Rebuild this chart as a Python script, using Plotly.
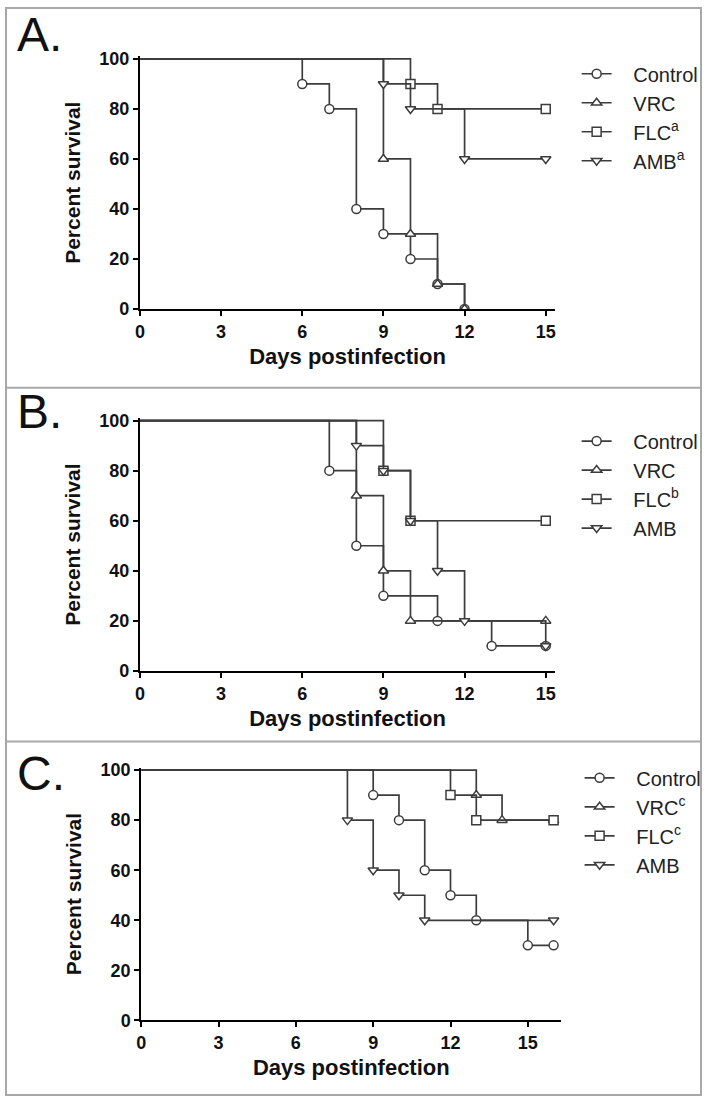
import plotly.graph_objects as go

W, H = 707, 1107

# ---------------- Data (Kaplan-Meier step points) ----------------
series_names = ["Control", "VRC", "FLC", "AMB"]

# Panel A
a_control_t = [0, 6, 7, 8, 9, 10, 11, 12]
a_control_s = [100, 90, 80, 40, 30, 20, 10, 0]
a_vrc_t = [0, 9, 10, 11, 12]
a_vrc_s = [100, 60, 30, 10, 0]
a_flc_t = [0, 10, 11, 15]
a_flc_s = [100, 90, 80, 80]
a_amb_t = [0, 9, 10, 12, 15]
a_amb_s = [100, 90, 80, 60, 60]
a_labels = ["Control", "VRC", "FLC<sup>a</sup>", "AMB<sup>a</sup>"]

# Panel B
b_control_t = [0, 7, 8, 9, 11, 13, 15]
b_control_s = [100, 80, 50, 30, 20, 10, 10]
b_vrc_t = [0, 8, 9, 10, 15]
b_vrc_s = [100, 70, 40, 20, 20]
b_flc_t = [0, 9, 10, 15]
b_flc_s = [100, 80, 60, 60]
b_amb_t = [0, 8, 9, 10, 11, 12, 15]
b_amb_s = [100, 90, 80, 60, 40, 20, 10]
b_labels = ["Control", "VRC", "FLC<sup>b</sup>", "AMB"]

# Panel C
c_control_t = [0, 9, 10, 11, 12, 13, 15, 16]
c_control_s = [100, 90, 80, 60, 50, 40, 30, 30]
c_vrc_t = [0, 13, 14, 16]
c_vrc_s = [100, 90, 80, 80]
c_flc_t = [0, 12, 13, 16]
c_flc_s = [100, 90, 80, 80]
c_amb_t = [0, 8, 9, 10, 11, 16]
c_amb_s = [100, 80, 60, 50, 40, 40]
c_labels = ["Control", "VRC<sup>c</sup>", "FLC<sup>c</sup>", "AMB"]

x_ticks_ab = [0, 3, 6, 9, 12, 15]
x_ticks_c = [0, 3, 6, 9, 12, 15]
y_ticks = [0, 20, 40, 60, 80, 100]
panel_letters = ["A.", "B.", "C."]

# ---------------- Styling ----------------
symbols = ["circle", "triangle-up", "square", "triangle-down"]
LINE_C = "#3c3c3c"
FONT = "Liberation Sans, Arial, sans-serif"
PAD = "\u00a0\u00a0\u00a0"  # gap between legend glyph and its label

fig = go.Figure()

panels = [
    ([(a_control_t, a_control_s), (a_vrc_t, a_vrc_s), (a_flc_t, a_flc_s), (a_amb_t, a_amb_s)], a_labels, "", "", "legend"),
    ([(b_control_t, b_control_s), (b_vrc_t, b_vrc_s), (b_flc_t, b_flc_s), (b_amb_t, b_amb_s)], b_labels, "2", "2", "legend2"),
    ([(c_control_t, c_control_s), (c_vrc_t, c_vrc_s), (c_flc_t, c_flc_s), (c_amb_t, c_amb_s)], c_labels, "3", "3", "legend3"),
]

for data, labels, xs, ys, leg in panels:
    for i, ((t, s), lab) in enumerate(zip(data, labels)):
        fig.add_trace(go.Scatter(
            x=t, y=s, mode="lines", line=dict(shape="hv", color=LINE_C, width=1.7),
            xaxis="x" + xs, yaxis="y" + ys, showlegend=False, hoverinfo="skip"))
        fig.add_trace(go.Scatter(
            x=t[1:], y=s[1:], mode="markers",
            marker=dict(symbol=symbols[i], size=9, color="white",
                        line=dict(color=LINE_C, width=1.5)),
            xaxis="x" + xs, yaxis="y" + ys, showlegend=False))
        fig.add_trace(go.Scatter(
            x=[None], y=[None], mode="lines+markers", name=PAD + lab,
            line=dict(color=LINE_C, width=1.7),
            marker=dict(symbol=symbols[i], size=9, color="white",
                        line=dict(color=LINE_C, width=1.5)),
            xaxis="x" + xs, yaxis="y" + ys, legend=leg, legendgroup=leg + str(i)))

def px_x(p):
    return p / W

def px_y(p):
    return 1 - p / H

axis_common = dict(
    showline=True, linecolor="black", linewidth=2, ticks="outside", ticklen=5,
    tickwidth=2, tickcolor="black", showgrid=False, zeroline=False,
    tickfont=dict(family=FONT, size=18, color="#111", weight="bold"),
)
xt = dict(text="Days postinfection", font=dict(family=FONT, size=22, color="#111", weight="bold"), standoff=8)
yt = dict(text="Percent survival", font=dict(family=FONT, size=21, color="#111", weight="bold"), standoff=13)

geo = [
    # x0px, x1px, xmax, ybottom_px, ytop_px
    (136.7, 557.3, 15.35, 306.7, 50.2, "y", "x"),
    (136.7, 557.3, 15.35, 674.3, 417.5, "y2", "x2"),
    (138.0, 563.5, 16.3, 1029.3, 772.4, "y3", "x3"),
]
lay = {}
for k, (x0, x1, xmax, yb, yt_, yname, xname) in enumerate(geo):
    xkey = "xaxis" if xname == "x" else "xaxis" + xname[1:]
    ykey = "yaxis" if yname == "y" else "yaxis" + yname[1:]
    lay[xkey] = dict(axis_common, domain=[px_x(x0), px_x(x1)], range=[0, xmax],
                     tickvals=(x_ticks_c if k == 2 else x_ticks_ab), anchor=yname, title=xt)
    lay[ykey] = dict(axis_common, domain=[px_y(yb), px_y(yt_)], range=[0, 101],
                     tickvals=y_ticks, anchor=xname, title=yt)

legend_common = dict(
    font=dict(family=FONT, size=20, color="#222"), bgcolor="rgba(0,0,0,0)",
    xanchor="left", yanchor="top", tracegroupgap=0, itemwidth=30,
    traceorder="normal",
)
fig.update_layout(
    width=W, height=H, margin=dict(l=0, r=0, t=0, b=0),
    paper_bgcolor="white", plot_bgcolor="white",
    showlegend=True,
    legend=dict(legend_common, x=px_x(579), y=px_y(48)),
    legend2=dict(legend_common, x=px_x(579), y=px_y(421)),
    legend3=dict(legend_common, x=px_x(582), y=px_y(763), tracegroupgap=4),
    **lay,
)

# panel letters
for letter, ycen in zip(panel_letters, [28, 411, 778]):
    fig.add_annotation(text=letter, xref="paper", yref="paper", x=px_x(10), y=px_y(ycen),
                       xanchor="left", yanchor="middle", showarrow=False,
                       font=dict(family=FONT, size=48, color="#111"))

# panel borders
BORDER = "#a8a8a8"
fig.add_shape(type="rect", xref="paper", yref="paper", x0=px_x(1), x1=px_x(705),
              y0=px_y(1105), y1=px_y(1), line=dict(color=BORDER, width=2))
for yy in [386.7, 746]:
    fig.add_shape(type="line", xref="paper", yref="paper", x0=px_x(1), x1=px_x(705),
                  y0=px_y(yy), y1=px_y(yy), line=dict(color=BORDER, width=2))

fig.write_html(
    "out.html",
    config={"displayModeBar": False},
    post_script="document.body.style.margin='0';document.body.style.padding='0';"
                "document.documentElement.style.overflow='hidden';",
)
